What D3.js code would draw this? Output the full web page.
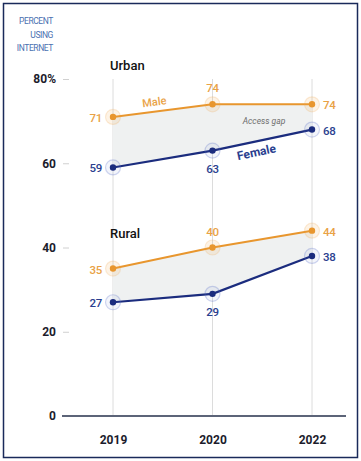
<!DOCTYPE html>
<html>
<head>
<meta charset="utf-8">
<script src="https://cdn.jsdelivr.net/npm/d3@7"></script>
<style>
  body { margin: 0; background: #fff; }
  svg { display: block; }
  text { font-family: "Roboto", sans-serif; }
</style>
</head>
<body>
<div id="chart"></div>
<script>
// Chart data
var years = ["2019", "2020", "2022"];
var urbanMale = [71, 74, 74];
var urbanFemale = [59, 63, 68];
var ruralMale = [35, 40, 44];
var ruralFemale = [27, 29, 38];
var yTicks = [0, 20, 40, 60, 80];

var svgWidth = 361;
var svgHeight = 461;

var maleColor = "#e8962e";
var femaleColor = "#1b2c7e";

var svg = d3.select("#chart")
  .append("svg")
  .attr("width", svgWidth)
  .attr("height", svgHeight);

// frame
svg.append("rect")
  .attr("x", 3.5).attr("y", 3.5)
  .attr("width", 354).attr("height", 454)
  .attr("fill", "none")
  .attr("stroke", "#1a2a5a")
  .attr("stroke-width", 1.5);

// scales
var xScale = d3.scalePoint().domain(years).range([113, 312]);
var yScale = d3.scaleLinear().domain([0, 80]).range([416, 79]);

// axis title
var title = svg.append("text")
  .attr("text-anchor", "end")
  .attr("fill", "#4a70b0")
  .attr("font-size", 8.5)
  .attr("letter-spacing", -0.4);
["PERCENT", "USING", "INTERNET"].forEach(function(t, i) {
  title.append("tspan").attr("x", 53).attr("y", 24 + i * 13.5).text(t);
});

// vertical gridlines
svg.append("g").selectAll("line")
  .data(years)
  .enter()
  .append("line")
  .attr("x1", d => xScale(d)).attr("x2", d => xScale(d))
  .attr("y1", yScale(80)).attr("y2", yScale(0))
  .attr("stroke", "#dcdcdc")
  .attr("stroke-width", 1);

// y axis
var leftAxis = d3.axisLeft(yScale)
  .tickValues(yTicks)
  .tickSize(6)
  .tickPadding(7)
  .tickFormat(d => d === 80 ? "80%" : d);

var yAxis = svg.append("g")
  .attr("transform", "translate(69,0)")
  .call(leftAxis);
yAxis.select(".domain").remove();
yAxis.selectAll(".tick line").attr("stroke", "#d0d0d0");
yAxis.selectAll(".tick text")
  .attr("fill", "#1c1c2c")
  .attr("font-size", 12)
  .attr("font-weight", "bold")
  .style("font-family", "Roboto, sans-serif");

// baseline
svg.append("line")
  .attr("x1", 62).attr("x2", 346)
  .attr("y1", yScale(0)).attr("y2", yScale(0))
  .attr("stroke", "#5c6478")
  .attr("stroke-width", 2);

// x axis labels
var bottomAxis = d3.axisBottom(xScale).tickSize(0).tickPadding(19);
var xAxis = svg.append("g")
  .attr("transform", `translate(0, ${yScale(0)})`)
  .call(bottomAxis);
xAxis.select(".domain").remove();
xAxis.selectAll(".tick text")
  .attr("fill", "#1c1c2c")
  .attr("font-size", 12)
  .attr("font-weight", "bold")
  .style("font-family", "Roboto, sans-serif");

var line = d3.line()
  .x((d, i) => xScale(years[i]))
  .y(d => yScale(d));

// draw one group (urban / rural)
function drawGroup(name, maleVals, femaleVals, labelPos) {
  var g = svg.append("g");

  var area = d3.area()
    .x((d, i) => xScale(years[i]))
    .y0((d, i) => yScale(femaleVals[i]))
    .y1(d => yScale(d));

  g.append("path")
    .datum(maleVals)
    .attr("d", area)
    .attr("fill", "#eff1f1");

  g.append("path").datum(maleVals).attr("d", line)
    .attr("fill", "none").attr("stroke", maleColor).attr("stroke-width", 2);
  g.append("path").datum(femaleVals).attr("d", line)
    .attr("fill", "none").attr("stroke", femaleColor).attr("stroke-width", 2.2);

  [[maleVals, maleColor, "rgba(240,170,80,0.14)", "rgba(240,170,80,0.22)", "#e9a246", ["left", "above", "right"]],
   [femaleVals, femaleColor, "rgba(90,110,200,0.07)", "rgba(90,110,200,0.28)", "#2b3f8f", ["left", "below", "right"]]]
    .forEach(function(s) {
      var vals = s[0];
      g.selectAll(null).data(vals).enter().append("circle")
        .attr("cx", (d, i) => xScale(years[i]))
        .attr("cy", d => yScale(d))
        .attr("r", 7.5)
        .attr("fill", s[2])
        .attr("stroke", s[3])
        .attr("stroke-width", 1.2);
      g.selectAll(null).data(vals).enter().append("circle")
        .attr("cx", (d, i) => xScale(years[i]))
        .attr("cy", d => yScale(d))
        .attr("r", 3.2)
        .attr("fill", s[1]);
      g.selectAll(null).data(vals).enter().append("text")
        .attr("x", function(d, i) {
          var p = s[5][i];
          if (p === "left") return xScale(years[i]) - 11;
          if (p === "right") return xScale(years[i]) + 11;
          return xScale(years[i]);
        })
        .attr("y", function(d, i) {
          var p = s[5][i];
          if (p === "above") return yScale(d) - 16;
          if (p === "below") return yScale(d) + 18;
          return yScale(d) + 1;
        })
        .attr("dy", "0.35em")
        .attr("text-anchor", function(d, i) {
          var p = s[5][i];
          return p === "left" ? "end" : (p === "right" ? "start" : "middle");
        })
        .attr("fill", s[4])
        .attr("font-size", 11.5)
        .attr("font-weight", 500)
        .attr("letter-spacing", -0.3)
        .text(d => d);
    });

  g.append("text")
    .attr("x", xScale(years[0]) - 3)
    .attr("y", labelPos)
    .attr("fill", "#111")
    .attr("font-size", 13)
    .attr("font-weight", 500)
    .text(name);
  return g;
}

drawGroup("Urban", urbanMale, urbanFemale, 70);
drawGroup("Rural", ruralMale, ruralFemale, 238);

// series labels (urban)
function lineAngle(vals, i) {
  var dx = xScale(years[i + 1]) - xScale(years[i]);
  var dy = yScale(vals[i + 1]) - yScale(vals[i]);
  return Math.atan2(dy, dx) * 180 / Math.PI;
}
function alongLine(vals, i, t) {
  var x = xScale(years[i]) + t * (xScale(years[i + 1]) - xScale(years[i]));
  var y = yScale(vals[i]) + t * (yScale(vals[i + 1]) - yScale(vals[i]));
  return [x, y];
}

var mp = alongLine(urbanMale, 0, 0.42);
svg.append("text")
  .attr("transform", `translate(${mp[0]}, ${mp[1] - 6}) rotate(${lineAngle(urbanMale, 0)})`)
  .attr("text-anchor", "middle")
  .attr("fill", "#e9a246")
  .attr("font-size", 11)
  .attr("font-weight", 500)
  .text("Male");

var fp = alongLine(urbanFemale, 1, 0.45);
svg.append("text")
  .attr("transform", `translate(${fp[0]}, ${fp[1] + 15}) rotate(${lineAngle(urbanFemale, 1)})`)
  .attr("text-anchor", "middle")
  .attr("fill", "#2b3f8f")
  .attr("font-size", 12)
  .attr("font-weight", "bold")
  .text("Female");

svg.append("text")
  .attr("x", 264)
  .attr("y", 124)
  .attr("text-anchor", "middle")
  .attr("fill", "#6e6e6e")
  .attr("font-size", 8.5)
  .attr("font-style", "italic")
  .text("Access gap");
</script>
</body>
</html>
